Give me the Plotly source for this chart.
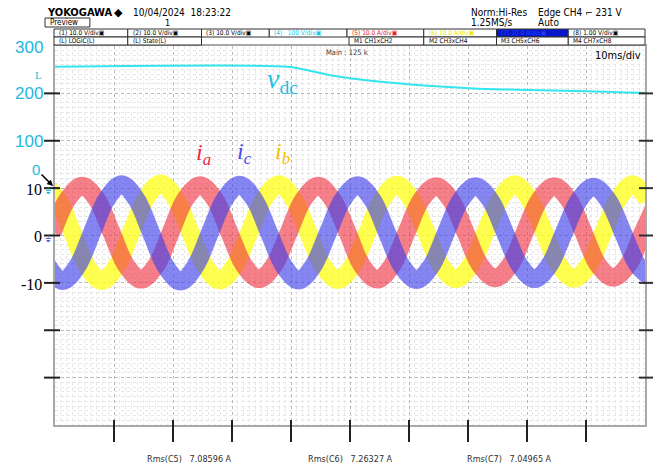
import plotly.graph_objects as go

# ---------------- data ----------------
# DC-link voltage (V) vs time (ms)
t_vdc = [0, 39.6, 46.4, 54.8, 63.2, 71.7, 80.1, 88.5, 100]
v_dc = [256, 256, 239, 225, 216, 210, 207, 205, 201]

# phase currents (A), sampled every 2.5 ms starting at the given times (ms)
dt_i = 2.5
t0_a, t0_c, t0_b = -0.4, -1.23, -2.07
i_a = [0.6, 7.6, 10.5, 7.6, 0.6, -6.4, -9.3, -6.4,
       0.6, 7.7, 10.6, 7.6, 0.5, -6.4, -9.2, -6.3,
       0.6, 7.6, 10.5, 7.5, 0.6, -6.5, -9.3, -6.4,
       0.7, 7.6, 10.4, 7.5, 0.6, -6.3, -9.0, -6.3,
       0.6, 7.5, 10.4, 7.5, 0.6, -6.3, -8.9, -6.3,
       0.6, 7.4]
i_c = [-6.4, -9.6, -6.5, 0.6, 7.7, 10.8, 7.7, 0.6,
       -6.5, -9.7, -6.5, 0.6, 7.7, 10.7, 7.6, 0.6,
       -6.4, -9.5, -6.4, 0.6, 7.6, 10.6, 7.6, 0.6,
       -6.4, -9.4, -6.4, 0.6, 7.5, 10.4, 7.5, 0.6,
       -6.3, -9.2, -6.3, 0.6, 7.4, 10.3, 7.4, 0.6,
       -6.3, -9.2]
i_b = [10.8, 7.8, 0.7, -6.5, -9.6, -6.5, 0.7, 7.9,
       11.0, 7.8, 0.7, -6.4, -9.5, -6.4, 0.6, 7.7,
       10.8, 7.7, 0.6, -6.4, -9.4, -6.4, 0.6, 7.6,
       10.7, 7.6, 0.6, -6.3, -9.2, -6.3, 0.6, 7.6,
       10.8, 7.6, 0.6, -6.3, -9.1, -6.3, 0.6, 7.6,
       10.8, 7.6]

x_ticks = [10, 20, 30, 40, 50, 60, 70, 80, 90]
y_ticks = [30, 20, 10, 0, -10, -20, -30]
rms_labels = ["Rms(C5)   7.08596 A", "Rms(C6)   7.26327 A", "Rms(C7)   7.04965 A"]

# ---------------- figure ----------------
W, H = 655, 465
L, R, T, B = 55, 8, 46, 40
PW, PH = W - L - R, H - T - B


def px(x):
    return (x - L) / PW


def py(y):
    return (H - B - y) / PH


def times(t0, n):
    return [t0 + k * dt_i for k in range(n)]


NARROW = "Liberation Sans Narrow, DejaVu Sans Condensed, Liberation Sans, Arial"
SERIF = "Liberation Serif, Times New Roman, serif"
SANS = "Liberation Sans, Arial, sans-serif"

fig = go.Figure()

band_w = 18
for tt, vals, col in [
    (times(t0_b, len(i_b)), i_b, "rgba(255,255,30,0.78)"),
    (times(t0_a, len(i_a)), i_a, "rgba(240,50,65,0.62)"),
    (times(t0_c, len(i_c)), i_c, "rgba(60,60,235,0.62)"),
]:
    fig.add_trace(go.Scatter(x=tt, y=vals, mode="lines",
                             line=dict(color=col, width=band_w, shape="spline", smoothing=1.0),
                             hoverinfo="skip", showlegend=False))

fig.add_trace(go.Scatter(x=t_vdc, y=v_dc, yaxis="y2", mode="lines",
                         line=dict(color="#33e6ee", width=2, shape="spline", smoothing=0.6),
                         hoverinfo="skip", showlegend=False))

grid_minor = "#e6e6e6"
grid_major = "#b8b8b8"
fig.update_layout(
    width=W, height=H,
    margin=dict(l=L, r=R, t=T, b=B),
    paper_bgcolor="white", plot_bgcolor="white",
    xaxis=dict(range=[0, 100], showticklabels=False, ticks="",
               showgrid=True, dtick=10, gridcolor=grid_major, griddash="dot", gridwidth=1,
               minor=dict(dtick=1, showgrid=True, gridcolor=grid_minor, gridwidth=1),
               zeroline=False, showline=True, linecolor="#a8a8a8", linewidth=2, mirror=True,
               fixedrange=True),
    yaxis=dict(range=[-40, 40], showticklabels=False, ticks="",
               showgrid=True, dtick=10, gridcolor=grid_major, griddash="dot", gridwidth=1,
               minor=dict(dtick=1, showgrid=True, gridcolor=grid_minor, gridwidth=1),
               zeroline=False, showline=True, linecolor="#a8a8a8", linewidth=2, mirror=True,
               fixedrange=True),
    yaxis2=dict(range=[-500, 300], overlaying="y", showticklabels=False, showgrid=False,
                zeroline=False, ticks="", fixedrange=True),
)

shapes = []
ann = []

# tick marks
for v in y_ticks:
    shapes.append(dict(type="line", xref="paper", yref="y", x0=px(44), x1=px(60), y0=v, y1=v,
                       line=dict(color="#202020", width=2)))
    shapes.append(dict(type="line", xref="paper", yref="y", x0=px(641), x1=px(655), y0=v, y1=v,
                       line=dict(color="#303030", width=2)))
for v in x_ticks:
    shapes.append(dict(type="line", xref="x", yref="paper", x0=v, x1=v, y0=py(420), y1=py(442),
                       line=dict(color="#202020", width=2)))


def txt(x, y, s, size=8, color="black", anchor="left", family=NARROW, **kw):
    d = dict(x=px(x), y=py(y), xref="paper", yref="paper", text=s, showarrow=False,
             xanchor=anchor, yanchor="middle", font=dict(size=size, color=color, family=family))
    d.update(kw)
    return d


def box(x0, y0, x1, y1, fill="white", color="#303030"):
    return dict(type="rect", xref="paper", yref="paper", x0=px(x0), x1=px(x1), y0=py(y0), y1=py(y1),
                line=dict(color=color, width=1), fillcolor=fill, layer="above")


# left tick labels
CY = "#22b8e0"
ann += [txt(45, 47, "300", 17, CY, "right", SANS),
        txt(45, 93, "200", 17, CY, "right", SANS),
        txt(45, 141, "100", 17, CY, "right", SANS),
        txt(44, 189, "10", 16, "black", "right", SERIF),
        txt(44, 236, "0", 16, "black", "right", SERIF),
        txt(44, 284, "-10", 16, "black", "right", SERIF),
        txt(44, 75, "L", 11, "#20c0d0", "right", SERIF),
        txt(48, 191, "⏚", 9, CY, "center", "DejaVu Sans"),
        txt(48, 239, "⏚", 9, "#5060e0", "center", "DejaVu Sans")]
ann.append(dict(x=px(53), y=py(186), xref="paper", yref="paper", text="0", showarrow=True,
                ax=-17, ay=-17, arrowcolor="black", arrowwidth=1.5, arrowhead=2, arrowsize=0.8,
                font=dict(size=15, color=CY, family=SANS)))

# trace labels
ann += [txt(204, 154, "<i>i</i><sub><i>a</i></sub>", 24, "#e8283c", "center", SERIF),
        txt(245, 153, "<i>i</i><sub><i>c</i></sub>", 24, "#4a4ae8", "center", SERIF),
        txt(283, 153, "<i>i</i><sub><i>b</i></sub>", 24, "#f5c000", "center", SERIF),
        txt(283, 80, "<i>v</i><sub>dc</sub>", 28, "#1ec0e0", "center", SERIF)]

# header
ann += [txt(45, 12, "<b>YOKOGAWA</b>", 11, "black", "left", NARROW),
        txt(112, 12, "◆", 11, "black", "left", "DejaVu Sans"),
        txt(131, 12, "10/04/2024  18:23:22", 10, "black", "left", NARROW),
        txt(48, 23, "Preview", 8, "black", "left", NARROW),
        txt(168, 23, "1", 9, "black", "center", NARROW),
        txt(470, 12, "Norm:Hi-Res", 10, "black", "left", NARROW),
        txt(470, 22, "1.25MS/s", 10, "black", "left", NARROW),
        txt(538, 12, "Edge CH4 ⌐ 231 V", 10, "black", "left", NARROW),
        txt(538, 22, "Auto", 10, "black", "left", NARROW),
        txt(325, 52, "Main : 125 k", 7.5, "#404040", "left", NARROW),
        txt(645, 55, "10ms/div", 11, "black", "right", NARROW)]
shapes.append(box(45, 18, 90, 27))

row1 = [(54, 128, "(1) 10.0 V/div▣", "black", "white"),
        (128, 202, "(2) 10.0 V/div▣", "black", "white"),
        (202, 270, "(3) 10.0 V/div▣", "black", "white"),
        (270, 348, "(4)   100 V/div▣", "#10c8e8", "white"),
        (348, 425, "(5) 10.0 A/div▣", "#e02020", "white"),
        (425, 498, "(6) 10.0 A/div▣", "#e8e800", "white"),
        (498, 570, "(7) 10.0 A/div▣", "#2040ff", "#0818c8"),
        (570, 647, "(8) 1.00 V/div▣", "black", "white")]
for x0, x1, s, c, f in row1:
    shapes.append(box(x0, 29, x1, 37, fill=f))
    ann.append(txt(x0 + 3, 33, s, 6.5, c, "left", NARROW))
row2 = [(54, 128, "(L) LOGIC(L)"), (128, 202, "(L) State(L)"),
        (350, 425, "M1 CH1xCH2"), (425, 498, "M2 CH3xCH4"),
        (498, 570, "M3 CH5xCH6"), (570, 647, "M4 CH7xCH8")]
for x0, x1, s in row2:
    shapes.append(box(x0, 37, x1, 45))
    ann.append(txt(x0 + 3, 41.3, s, 6.5, "black", "left", NARROW))

# bottom measurements
for xc, s in zip([190, 351, 511], rms_labels):
    ann.append(txt(xc, 459, s, 9, "#303030", "center", NARROW))

fig.update_layout(shapes=shapes, annotations=ann)
fig.write_html("out.html")
